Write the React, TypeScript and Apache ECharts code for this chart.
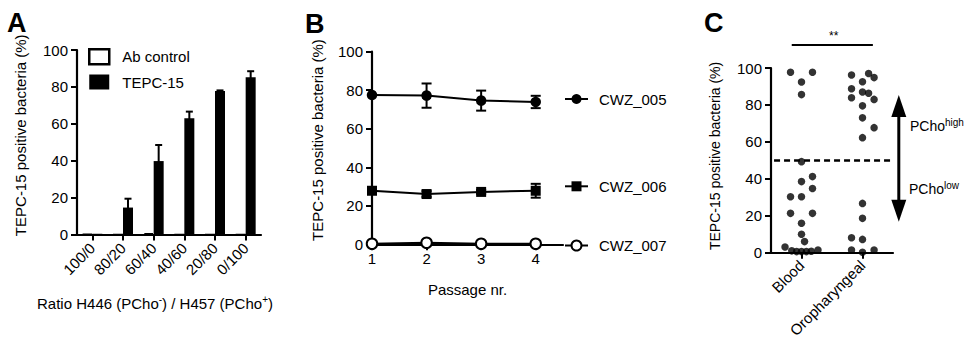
import React, { useEffect, useRef } from "react";
import * as echarts from "echarts";

const FONT = "'Liberation Sans', Arial, Helvetica, sans-serif";

// ---------- Panel A ----------
const ratioCategories = ["100/0", "80/20", "60/40", "40/60", "20/80", "0/100"];
const abControl = [0.3, 0, 0.7, 0, 0, 0];
const tepc15 = [0.4, 14.6, 39.8, 63.0, 77.8, 85.2];
const tepc15Err = [0, 4.8, 8.7, 3.6, 0.3, 3.3];

// ---------- Panel B ----------
const passages = [1, 2, 3, 4];
const cwz005 = [77.5, 77.2, 74.6, 73.9];
const cwz005Err = [0, 6.3, 5.2, 3.2];
const cwz006 = [27.8, 26.1, 27.2, 27.8];
const cwz006Err = [0, 1.5, 1.0, 3.6];
const cwz007 = [0.3, 0.8, 0.3, 0.3];
const cwz007Err = [0, 0, 0, 0];

// ---------- Panel C ----------
const sourceCategories = ["Blood", "Oropharyngeal"];
const bloodValues = [97.7, 97.7, 92.4, 85.6, 49.3, 41.2, 38.5, 34.8, 30.3, 30.3, 21.3, 21.3, 15.9, 10.0, 6.0, 3.1, 1.0, 0.6, 0.6, 0.6, 0.8, 1.5];
const bloodJitter = [-0.18, 0.18, 0, 0, 0, 0.18, 0, 0.18, -0.18, 0, -0.18, 0.18, 0, 0, 0.05, -0.27, -0.16, -0.08, 0, 0.08, 0.16, 0.27];
const oroValues = [96.2, 97.0, 94.8, 92.6, 88.8, 87.0, 86.3, 83.9, 83.0, 79.5, 73.0, 67.7, 62.3, 26.7, 18.6, 8.1, 7.2, 1.5, 0.2, 1.5];
const oroJitter = [-0.18, 0.1, 0.19, 0, -0.18, 0, 0.1, -0.18, 0.19, 0, 0, 0.19, 0, 0, 0, -0.18, 0, -0.18, 0, 0.19];
const threshold = 50;
const significance = "**";
// annotation positions in panel C data units: significance bracket and PCho arrow
const sigBracket = { x1: -0.16, x2: 1.17, y: 112.5 };
const phenoArrow = { x: 1.595, yTop: 85.4, yBottom: 16.8 };

const yMin = 0;
const yMax = 100;
const yInterval = 20;

const black = "#000";
const yTitle = "TEPC-15 positive bacteria (%)";
const mkLabel = (extra: any = {}) => ({ show: true, color: black, fontSize: 15, fontFamily: FONT, ...extra });
const mkAxisLine = () => ({ show: true, onZero: false, lineStyle: { color: black, width: 2.2 } });
const mkTick = (extra: any = {}) => ({ show: true, length: 6, lineStyle: { color: black, width: 2 }, ...extra });
const supRich = () => ({
  sup: { fontSize: 10, fontFamily: FONT, color: black, verticalAlign: "top", lineHeight: 10 },
});

function makeErrRender(offset: number, cap: number, upperOnly: boolean) {
  return (params: any, api: any) => {
    const x = api.value(0);
    const lo = api.value(1);
    const hi = api.value(2);
    const a = api.coord([x, hi]);
    const b = api.coord([x, lo]);
    const cx = a[0] + offset;
    const style = { stroke: black, lineWidth: 2, fill: "none" };
    const children: any[] = [
      { type: "line", shape: { x1: cx, y1: a[1], x2: cx, y2: b[1] }, style },
      { type: "line", shape: { x1: cx - cap, y1: a[1], x2: cx + cap, y2: a[1] }, style },
    ];
    if (!upperOnly) {
      children.push({ type: "line", shape: { x1: cx - cap, y1: b[1], x2: cx + cap, y2: b[1] }, style });
    }
    return { type: "group", children };
  };
}

function errData(xs: number[], vals: number[], errs: number[]) {
  const out: number[][] = [];
  vals.forEach((v, i) => {
    if (errs[i] > 0) out.push([xs[i], v - errs[i], v + errs[i]]);
  });
  return out;
}

function annotationRender(params: any, api: any) {
  const s1 = api.coord([sigBracket.x1, sigBracket.y]);
  const s2 = api.coord([sigBracket.x2, sigBracket.y]);
  const aTop = api.coord([phenoArrow.x, phenoArrow.yTop]);
  const aBot = api.coord([phenoArrow.x, phenoArrow.yBottom]);
  const ax = aTop[0];
  return {
    type: "group",
    children: [
      { type: "line", shape: { x1: s1[0], y1: s1[1], x2: s2[0], y2: s2[1] }, style: { stroke: black, lineWidth: 2 } },
      { type: "line", shape: { x1: ax, y1: aTop[1] + 17, x2: ax, y2: aBot[1] - 17 }, style: { stroke: black, lineWidth: 3 } },
      { type: "polygon", shape: { points: [[ax, aTop[1]], [ax - 7.5, aTop[1] + 22], [ax + 7.5, aTop[1] + 22]] }, style: { fill: black } },
      { type: "polygon", shape: { points: [[ax, aBot[1]], [ax - 7.5, aBot[1] - 22], [ax + 7.5, aBot[1] - 22]] }, style: { fill: black } },
    ],
  };
}

function yAxisFor(gridIndex: number, nameGap: number, shiftUp: number, fontSize: number) {
  return {
    gridIndex,
    type: "value",
    min: yMin,
    max: yMax,
    interval: yInterval,
    name: yTitle,
    nameLocation: "middle",
    nameRotate: 90,
    nameGap,
    nameTextStyle: { color: black, fontSize, fontFamily: FONT, padding: [0, 0, 0, shiftUp * 2] },
    axisLine: mkAxisLine(),
    axisTick: mkTick(),
    splitLine: { show: false },
    axisLabel: mkLabel({ margin: 9 }),
  };
}

function lineLegend(name: string, top: number) {
  return {
    data: [name],
    left: 564,
    top,
    itemWidth: 23,
    itemHeight: 12.5,
    padding: 0,
    selectedMode: false,
    textStyle: mkLabel({ padding: [0, 0, 0, 6] }),
  };
}

function label(text: string, left: number, top: number, style: any = {}) {
  return {
    text,
    left,
    top,
    padding: 0,
    itemGap: 0,
    textStyle: { color: black, fontFamily: FONT, fontSize: 15, fontWeight: "normal", ...style },
  };
}

export default function App() {
  const ref = useRef<HTMLDivElement>(null);

  useEffect(() => {
    if (!ref.current) return;
    const chart = echarts.init(ref.current, undefined, { renderer: "svg" });

    const option: any = {
      animation: false,
      title: [
        label("A", 7, 9.5, { fontSize: 27, fontWeight: "bold" }),
        label("B", 305, 10.5, { fontSize: 27, fontWeight: "bold" }),
        label("C", 704, 9.5, { fontSize: 27, fontWeight: "bold" }),
        label(significance, 829, 30, { fontSize: 12 }),
        label("PCho{sup|high}", 910, 117.5, { fontSize: 14, lineHeight: 17, rich: supRich() }),
        label("PCho{sup|low}", 909, 180.5, { fontSize: 14, lineHeight: 17, rich: supRich() }),
      ],
      grid: [
        { left: 77, top: 50, width: 184, height: 184.5 },
        { left: 372, top: 51.7, width: 191, height: 192.6 },
        { left: 771, top: 68, width: 122, height: 184.7 },
      ],
      legend: [
        {
          data: [
            { name: "Ab control", icon: "rect", itemStyle: { color: "#fff", borderColor: black, borderWidth: 2.5 } },
            { name: "TEPC-15", icon: "rect" },
          ],
          orient: "vertical",
          left: 88,
          top: 48,
          itemWidth: 20,
          itemHeight: 15,
          itemGap: 9,
          padding: 0,
          selectedMode: false,
          textStyle: mkLabel({ padding: [0, 0, 0, 8] }),
        },
        lineLegend("CWZ_005", 91.5),
        lineLegend("CWZ_006", 178.8),
        lineLegend("CWZ_007", 238),
      ],
      xAxis: [
        {
          gridIndex: 0,
          type: "category",
          data: ratioCategories,
          name: "Ratio H446 (PCho{sup|-}) / H457 (PCho{sup|+})",
          nameLocation: "middle",
          nameGap: 59.5,
          nameTextStyle: { color: black, fontSize: 15, fontFamily: FONT, lineHeight: 18, padding: [0, 28, 0, 0], rich: supRich() },
          axisLine: mkAxisLine(),
          axisTick: mkTick({ alignWithLabel: true }),
          axisLabel: mkLabel({ rotate: 45, margin: 11, interval: 0 }),
        },
        {
          gridIndex: 1,
          type: "value",
          min: 1,
          max: 4.5,
          name: "Passage nr.",
          nameLocation: "middle",
          nameGap: 38,
          nameTextStyle: { color: black, fontSize: 15, fontFamily: FONT, lineHeight: 15 },
          axisLine: mkAxisLine(),
          axisTick: mkTick({ customValues: passages }),
          axisLabel: mkLabel({ margin: 7, customValues: passages }),
          splitLine: { show: false },
        },
        {
          gridIndex: 2,
          type: "value",
          min: -0.5,
          max: 1.5,
          axisLine: mkAxisLine(),
          axisTick: mkTick({ customValues: [0, 1] }),
          axisLabel: mkLabel({
            rotate: 45,
            margin: 10,
            customValues: [0, 1],
            formatter: (v: number) => sourceCategories[Math.round(v)] ?? "",
          }),
          splitLine: { show: false },
        },
      ],
      yAxis: [yAxisFor(0, 49.5, 7, 15), yAxisFor(1, 47.5, 8, 15), yAxisFor(2, 49, 4.4, 14)],
      series: [
        {
          name: "Ab control",
          type: "bar",
          xAxisIndex: 0,
          yAxisIndex: 0,
          data: abControl,
          barWidth: 10,
          barGap: "0%",
          itemStyle: { color: "#fff", borderColor: black, borderWidth: 1.5 },
        },
        {
          name: "TEPC-15",
          type: "bar",
          xAxisIndex: 0,
          yAxisIndex: 0,
          data: tepc15,
          barWidth: 10,
          barGap: "0%",
          itemStyle: { color: black },
        },
        {
          name: "TEPC-15 error",
          type: "custom",
          xAxisIndex: 0,
          yAxisIndex: 0,
          data: errData(ratioCategories.map((_, i) => i), tepc15, tepc15Err),
          renderItem: makeErrRender(5, 3.5, true),
          z: 1,
        },
        ...[
          { name: "CWZ_005", vals: cwz005, errs: cwz005Err, symbol: "circle" },
          { name: "CWZ_006", vals: cwz006, errs: cwz006Err, symbol: "rect" },
          { name: "CWZ_007", vals: cwz007, errs: cwz007Err, symbol: "emptyCircle" },
        ].flatMap((s) => [
          {
            name: s.name + " error",
            type: "custom",
            xAxisIndex: 1,
            yAxisIndex: 1,
            data: errData(passages, s.vals, s.errs),
            renderItem: makeErrRender(0, 5, false),
            z: 1,
          },
          {
            name: s.name,
            type: "line",
            xAxisIndex: 1,
            yAxisIndex: 1,
            data: passages.map((p, i) => [p, s.vals[i]]),
            symbol: s.symbol,
            symbolSize: s.symbol === "rect" ? 10 : 10.5,
            showAllSymbol: true,
            lineStyle: { color: black, width: 2 },
            itemStyle: { color: black, borderColor: black, borderWidth: s.symbol === "emptyCircle" ? 2 : 0 },
            z: 3,
          },
        ]),
        {
          name: "Blood",
          type: "scatter",
          xAxisIndex: 2,
          yAxisIndex: 2,
          data: bloodValues.map((v, i) => [bloodJitter[i], v]),
          symbol: "circle",
          symbolSize: 7.5,
          itemStyle: { color: black },
          markLine: {
            silent: true,
            symbol: ["none", "none"],
            label: { show: false },
            lineStyle: { color: black, width: 2.5, type: [6, 4] },
            data: [[{ coord: [-0.45, threshold] }, { coord: [1.5, threshold] }]],
          },
        },
        {
          name: "Oropharyngeal",
          type: "scatter",
          xAxisIndex: 2,
          yAxisIndex: 2,
          data: oroValues.map((v, i) => [1 + oroJitter[i], v]),
          symbol: "circle",
          symbolSize: 7.5,
          itemStyle: { color: black },
        },
        {
          name: "annotations",
          type: "custom",
          xAxisIndex: 2,
          yAxisIndex: 2,
          clip: false,
          silent: true,
          data: [[0, 0]],
          renderItem: annotationRender,
          z: 5,
        },
      ],
    };

    chart.setOption(option);
    return () => chart.dispose();
  }, []);

  return (
    <div
      ref={ref}
      style={{ position: "fixed", left: 0, top: 0, width: 970, height: 343, background: "#fff" }}
    />
  );
}
